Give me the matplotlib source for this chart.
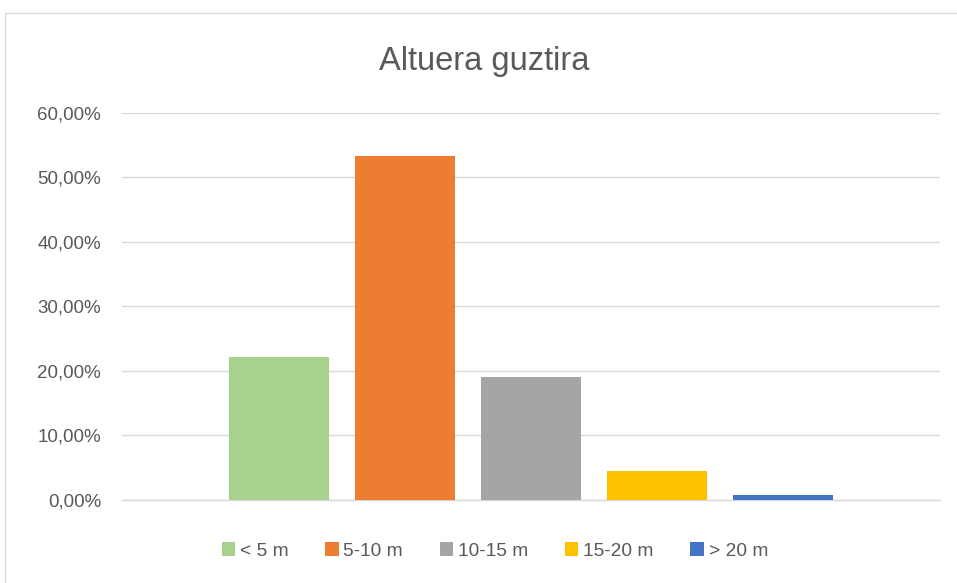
import numpy as np
import matplotlib.pyplot as plt
from matplotlib.patches import Rectangle
from matplotlib.ticker import FuncFormatter

plt.rcParams['font.family'] = ['Liberation Sans', 'DejaVu Sans']

# datuak
labels = ['< 5 m', '5-10 m', '10-15 m', '15-20 m', '> 20 m']
values = [0.222, 0.533, 0.191, 0.045, 0.008]
colors = ['#a9d18e', '#ed7d31', '#a5a5a5', '#ffc000', '#4472c4']

fig = plt.figure(figsize=(9.57, 5.83), dpi=100)
ax = fig.add_axes([0.1275, 0.1424, 0.8548, 0.6638])

x = np.arange(len(values))
for i in range(len(values)):
    ax.bar(x[i], values[i], width=0.794, color=colors[i], label=labels[i], zorder=3)

ax.set_xlim(-1.246, len(values) - 1 + 1.246)
ax.set_ylim(0, 0.6)
ax.set_yticks(np.arange(0, 0.61, 0.1))
ax.yaxis.set_major_formatter(FuncFormatter(lambda v, p: f'{v*100:.2f}%'.replace('.', ',')))
ax.set_xticks([])
ax.grid(axis='y', color='#d9d9d9', linewidth=1.0, zorder=0)
ax.axhline(0, color='#d9d9d9', linewidth=1.0, zorder=1, clip_on=False)
for s in ax.spines.values():
    s.set_visible(False)
ax.tick_params(axis='y', length=0, labelsize=13.5, labelcolor='#595959', pad=15)

fig.text(0.506, 0.895, 'Altuera guztira', ha='center', va='center', fontsize=23.5, color='#595959')

fig.legend(loc='center', bbox_to_anchor=(0.517, 0.055), ncol=5, frameon=False,
           handlelength=0.7, handleheight=0.7, handletextpad=0.25, columnspacing=1.92,
           fontsize=13.8, labelcolor='#595959')

# taula-ertza
fig.patches.append(Rectangle((5/957, -0.1), 1.2, 1 - 13/583 + 0.1, transform=fig.transFigure,
                             fill=False, edgecolor='#d9d9d9', linewidth=1.0))

fig.savefig('out.png', dpi=100)
